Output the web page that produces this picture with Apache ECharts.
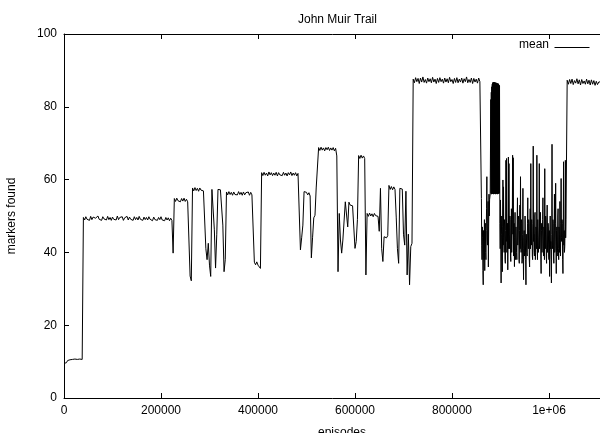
<!DOCTYPE html>
<html>
<head>
<meta charset="utf-8">
<script src="https://cdn.jsdelivr.net/npm/echarts@6/dist/echarts.min.js"></script>
<style>
html,body{margin:0;padding:0;background:#fff;overflow:hidden}
#chart{width:600px;height:433px}
</style>
</head>
<body>
<div id="chart"></div>
<script>
// ---- data (episodes on x, markers found on y) ----
const chartTitle = 'John Muir Trail';
const seriesName = 'mean';
const xTickValues = [0, 200000, 400000, 600000, 800000, 1000000];
const xTickLabels = ['0', '200000', '400000', '600000', '800000', '1e+06'];
const yTickValues = [0, 20, 40, 60, 80, 100];
const xMax = 1146400;

// logged every 2500 episodes, starting at episode 0
const regularStep = 2500;
// episodes 0 .. 332,500
const markersA = [
  9.5, 10.0, 9.7, 10.3, 9.9, 10.5, 10.1, 10.6, 10.2, 10.7, 10.3, 10.6, 10.2, 10.7, 10.3, 10.6,
  49.6, 48.9, 49.8, 49.1, 49.5, 48.8, 49.9, 49.0, 49.7, 49.2,
  49.4, 48.9, 50.0, 49.1, 49.6, 48.8, 49.8, 49.2, 49.5, 48.9,
  49.9, 49.0, 49.6, 48.8, 49.7, 49.1, 49.5, 48.9, 50.0, 49.0,
  49.6, 49.2, 49.8, 48.8, 49.5, 49.0, 49.9, 48.9, 49.7, 49.1,
  49.4, 48.8, 49.8, 49.0, 49.6, 48.9, 49.9, 49.1, 49.5, 48.8,
  49.7, 49.0, 49.6, 48.9, 49.8, 49.1, 49.4, 48.7, 49.7, 49.0,
  49.5, 48.8, 49.6, 49.0, 49.8, 48.9, 49.4, 48.7, 49.6, 48.9,
  49.5, 48.7, 49.4, 48.8,
  39.8,
  54.8, 54.0, 54.9, 54.2, 54.7, 53.9, 54.8, 54.1, 54.9, 54.0, 54.6, 53.9, 53.6,
  33.5, 32.2,
  57.7, 56.9, 57.8, 57.0, 57.6, 56.8, 57.7, 57.1, 57.5, 56.9, 56.6,
  41, 38, 42.5, 36.5, 33.4, 57.3, 57.6, 46.2, 35.7, 45, 57.3, 57.5, 57.2, 57.4, 47.5, 34.7, 38
];
// episodes 335,000 .. 717,500
const markersB = [
  56.6, 55.8, 56.7, 55.9, 56.5, 55.7, 56.6, 55.9, 56.4, 55.8, 56.7, 55.9, 56.5, 55.7, 56.6, 55.8, 56.4, 55.9, 56.6, 55.7, 56.5, 55.8, 56.3,
  37.3, 36.6, 37.4, 36.5, 36.9, 35.6,
  61.9, 61.1, 62.0, 61.2, 61.8, 61.0, 62.1, 61.3, 61.9, 61.1,
  61.8, 61.2, 62.0, 61.0, 61.9, 61.3, 61.7, 61.1, 62.0, 61.2,
  61.8, 61.0, 61.9, 61.3, 62.1, 61.1, 61.8, 61.2, 61.9, 61.0,
  61.7, 61.2,
  40.7, 44, 47.5,
  56.7, 56.2, 56.5, 55.8, 56.4, 55.5,
  38.5, 44, 49.5, 50.2, 57.7, 58.1,
  68.8, 68.0, 68.9, 68.1, 68.7, 67.9, 68.8, 68.2, 68.9, 68.0, 68.7, 68.1, 68.8, 67.9, 68.6,
  66.5, 34.7, 50.7, 43.4, 39.8, 43.4, 43.8, 53.9, 53.5, 47, 53.8, 53, 53.5, 52.8, 53.2, 41.1, 43, 49,
  66.6, 65.8, 66.7, 65.9, 66.5, 65.8,
  33.8,
  50.7, 49.9, 50.8, 50.0, 50.6, 49.8, 50.7, 50.1, 50.6, 49.9,
  45.8, 57.6, 41, 37.5, 44.3, 44.5, 44.0, 44.6,
  58.4, 57.3, 58.1, 57.2, 58.0, 57.3,
  49.7, 41, 37, 57.6, 57.8, 57.4, 45, 42, 56.8, 33.8, 45, 31.1, 41.6, 42.5
];
// episodes 720,000 .. 857,500
const markersC = [
  87.6, 86.6, 88.0, 86.9, 87.8, 86.4, 87.9, 86.8, 88.2, 86.7,
  87.5, 86.5, 87.9, 86.9, 87.7, 86.6, 88.1, 86.8, 87.6, 86.4,
  87.8, 86.7, 88.0, 86.9, 87.6, 86.5, 87.9, 86.8, 87.7, 86.6,
  88.1, 86.9, 87.5, 86.4, 87.8, 86.7, 88.0, 86.6, 87.6, 86.8,
  87.9, 86.5, 87.7, 86.9, 88.2, 86.6, 87.5, 86.7, 87.9, 86.4,
  87.8, 86.8, 87.6, 86.5, 87.9, 86.9
];
// collapse: logged every 625 episodes from episode 860,000
const dropStart = 860000;
const dropStep = 625;
const markersDrop = [
  86.9, 54.8, 42, 38, 47, 44, 35, 31.1, 46, 42, 38, 49, 35, 44, 48, 40,
  38, 46, 52, 60.8, 44, 42, 48, 54, 36, 47, 56, 50, 54.5, 55, 56, 55.5
];
// oscillating band: logged every 500 episodes from episode 880,000
const bandStart = 880000;
const bandStep = 500;
const markersBand = [
  82, 56.2, 84, 56.0, 85.5, 56.3, 86.2, 56.1, 86.6, 56.2, 86.8, 56.0, 86.7, 56.3, 86.8, 56.1,
  86.6, 56.2, 86.7, 56.0, 86.5, 56.3, 86.6, 56.1, 86.4, 56.2, 86.5, 56.0, 86.3, 56.2, 86.4, 56.1,
  86.2, 56.3, 86.0, 56.2, 85.8
];
// unstable phase: logged every 625 episodes from episode 898,750 to 1,035,000
const noisyStart = 898750;
const noisyStep = 625;
const markersNoisy = [
  48, 41, 54.4, 44, 31.6, 45, 50, 39, 34.7, 47, 59.9, 42, 58, 44, 40, 49, 47, 38, 37, 46,
  65.3, 43, 65.8, 40, 42, 48, 35.2, 44, 66.2, 41, 64.4, 45, 41, 50, 49, 39, 37.5, 46, 52, 40,
  40, 49, 66.7, 45, 66.0, 39, 43, 48, 36.1, 44, 51, 38, 39, 47, 47, 40, 38, 49, 55, 42,
  42, 50, 49, 38, 37, 46, 53, 41, 60.8, 43, 40, 49, 48, 37, 38, 45, 57.6, 41, 32.5, 44,
  46, 39, 40, 50, 50, 38, 31.1, 45, 45, 40, 39, 48, 55, 42, 41, 49, 48, 38, 36, 47,
  52, 41, 64.4, 45, 42, 49, 47, 39, 38, 48, 69.2, 43, 45, 40, 39, 50, 51, 38, 40, 47,
  46, 41, 66.7, 44, 38, 49, 49, 40, 42, 47, 64.4, 41, 44, 50, 51, 39, 34.2, 46, 48, 40,
  40, 49, 55, 41, 39, 47, 46, 38, 63, 44, 41, 50, 49, 39, 37, 47, 53, 40, 40, 48,
  47, 39, 38, 46, 33.4, 44, 50, 41, 43, 38, 31.6, 45, 69.7, 41, 42, 49, 48, 39, 37, 46,
  56, 40, 41, 48, 59, 42, 34.2, 46, 47, 39, 40, 50, 52, 41, 38, 47, 45, 40, 54, 42,
  39, 48, 60.3, 44, 43, 49, 48, 38, 34.2, 45, 64.9, 42, 46, 40, 41.6, 47, 65.3, 44, 49
];
// final plateau: logged every 2500 episodes from episode 1,037,500 (runs past the right edge)
const lateStart = 1037500;
const markersLate = [
  87.3, 86.2, 87.5, 86.4, 87.6, 86.1, 87.2, 86.5, 87.7, 86.3,
  87.4, 86.0, 87.5, 86.4, 87.1, 86.2, 87.6, 86.3, 87.3, 86.0,
  87.4, 86.2, 87.2, 85.9, 87.0, 86.1, 86.8, 86.4, 86.9, 86.3, 87.0
];

// ---- build series ----
const data = [];
markersA.concat(markersB, markersC).forEach((v, i) => data.push([i * regularStep, v]));
markersDrop.forEach((v, i) => data.push([dropStart + i * dropStep, v]));
markersBand.forEach((v, i) => data.push([bandStart + i * bandStep, v]));
markersNoisy.forEach((v, i) => data.push([noisyStart + i * noisyStep, v]));
markersLate.forEach((v, i) => data.push([lateStart + i * regularStep, v]));

const FONT = '"Liberation Sans", Arial, Helvetica, sans-serif';
const txt = {color: '#000', fontSize: 12, fontFamily: FONT};

const chart = echarts.init(document.getElementById('chart'), null, {renderer: 'canvas'});
const xLabel = v => {
  const k = xTickValues.indexOf(v);
  return k >= 0 ? xTickLabels[k] : '';
};
const axisLineStyle = {color: '#000', width: 1};

chart.setOption({
  animation: false,
  backgroundColor: '#fff',
  title: {
    text: chartTitle, left: 293, top: 9,
    textStyle: Object.assign({fontWeight: 'normal'}, txt)
  },
  // gnuplot-style key: label first, then line sample
  graphic: [
    {type: 'text', right: 51, top: 39, style: {text: seriesName, fill: '#000', font: '12px ' + FONT}},
    {type: 'line', right: 8, top: 45, shape: {x1: 0, y1: 0.5, x2: 35, y2: 0.5}, style: {stroke: '#000', lineWidth: 1}}
  ],
  grid: {left: 64, right: -20, top: 34, bottom: 35, containLabel: false, outerBoundsMode: 'none'},
  xAxis: [{
    type: 'value', position: 'bottom', min: 0, max: xMax, interval: 200000,
    name: 'episodes', nameLocation: 'middle', nameGap: 29, nameTextStyle: txt,
    axisLine: {show: true, lineStyle: axisLineStyle},
    axisTick: {show: true, inside: true, length: 5, lineStyle: axisLineStyle},
    axisLabel: Object.assign({formatter: xLabel, margin: 7}, txt),
    splitLine: {show: false}
  }, {
    type: 'value', position: 'top', min: 0, max: xMax, interval: 200000,
    axisLine: {show: true, lineStyle: axisLineStyle},
    axisTick: {show: true, inside: true, length: 5, lineStyle: axisLineStyle},
    axisLabel: {show: false},
    splitLine: {show: false}
  }],
  yAxis: {
    type: 'value', min: 0, max: 100, interval: 20,
    name: 'markers found', nameLocation: 'middle', nameGap: 46, nameRotate: 90,
    nameTextStyle: txt,
    axisLine: {show: true, lineStyle: axisLineStyle},
    axisTick: {show: true, inside: true, length: 5, lineStyle: axisLineStyle},
    axisLabel: Object.assign({margin: 7, formatter: v => yTickValues.indexOf(v) >= 0 ? String(v) : ''}, txt),
    splitLine: {show: false}
  },
  series: [{
    name: seriesName, type: 'line', data: data,
    showSymbol: false, symbol: 'none',
    lineStyle: {color: '#000', width: 1}
  }]
});
</script>
</body>
</html>
